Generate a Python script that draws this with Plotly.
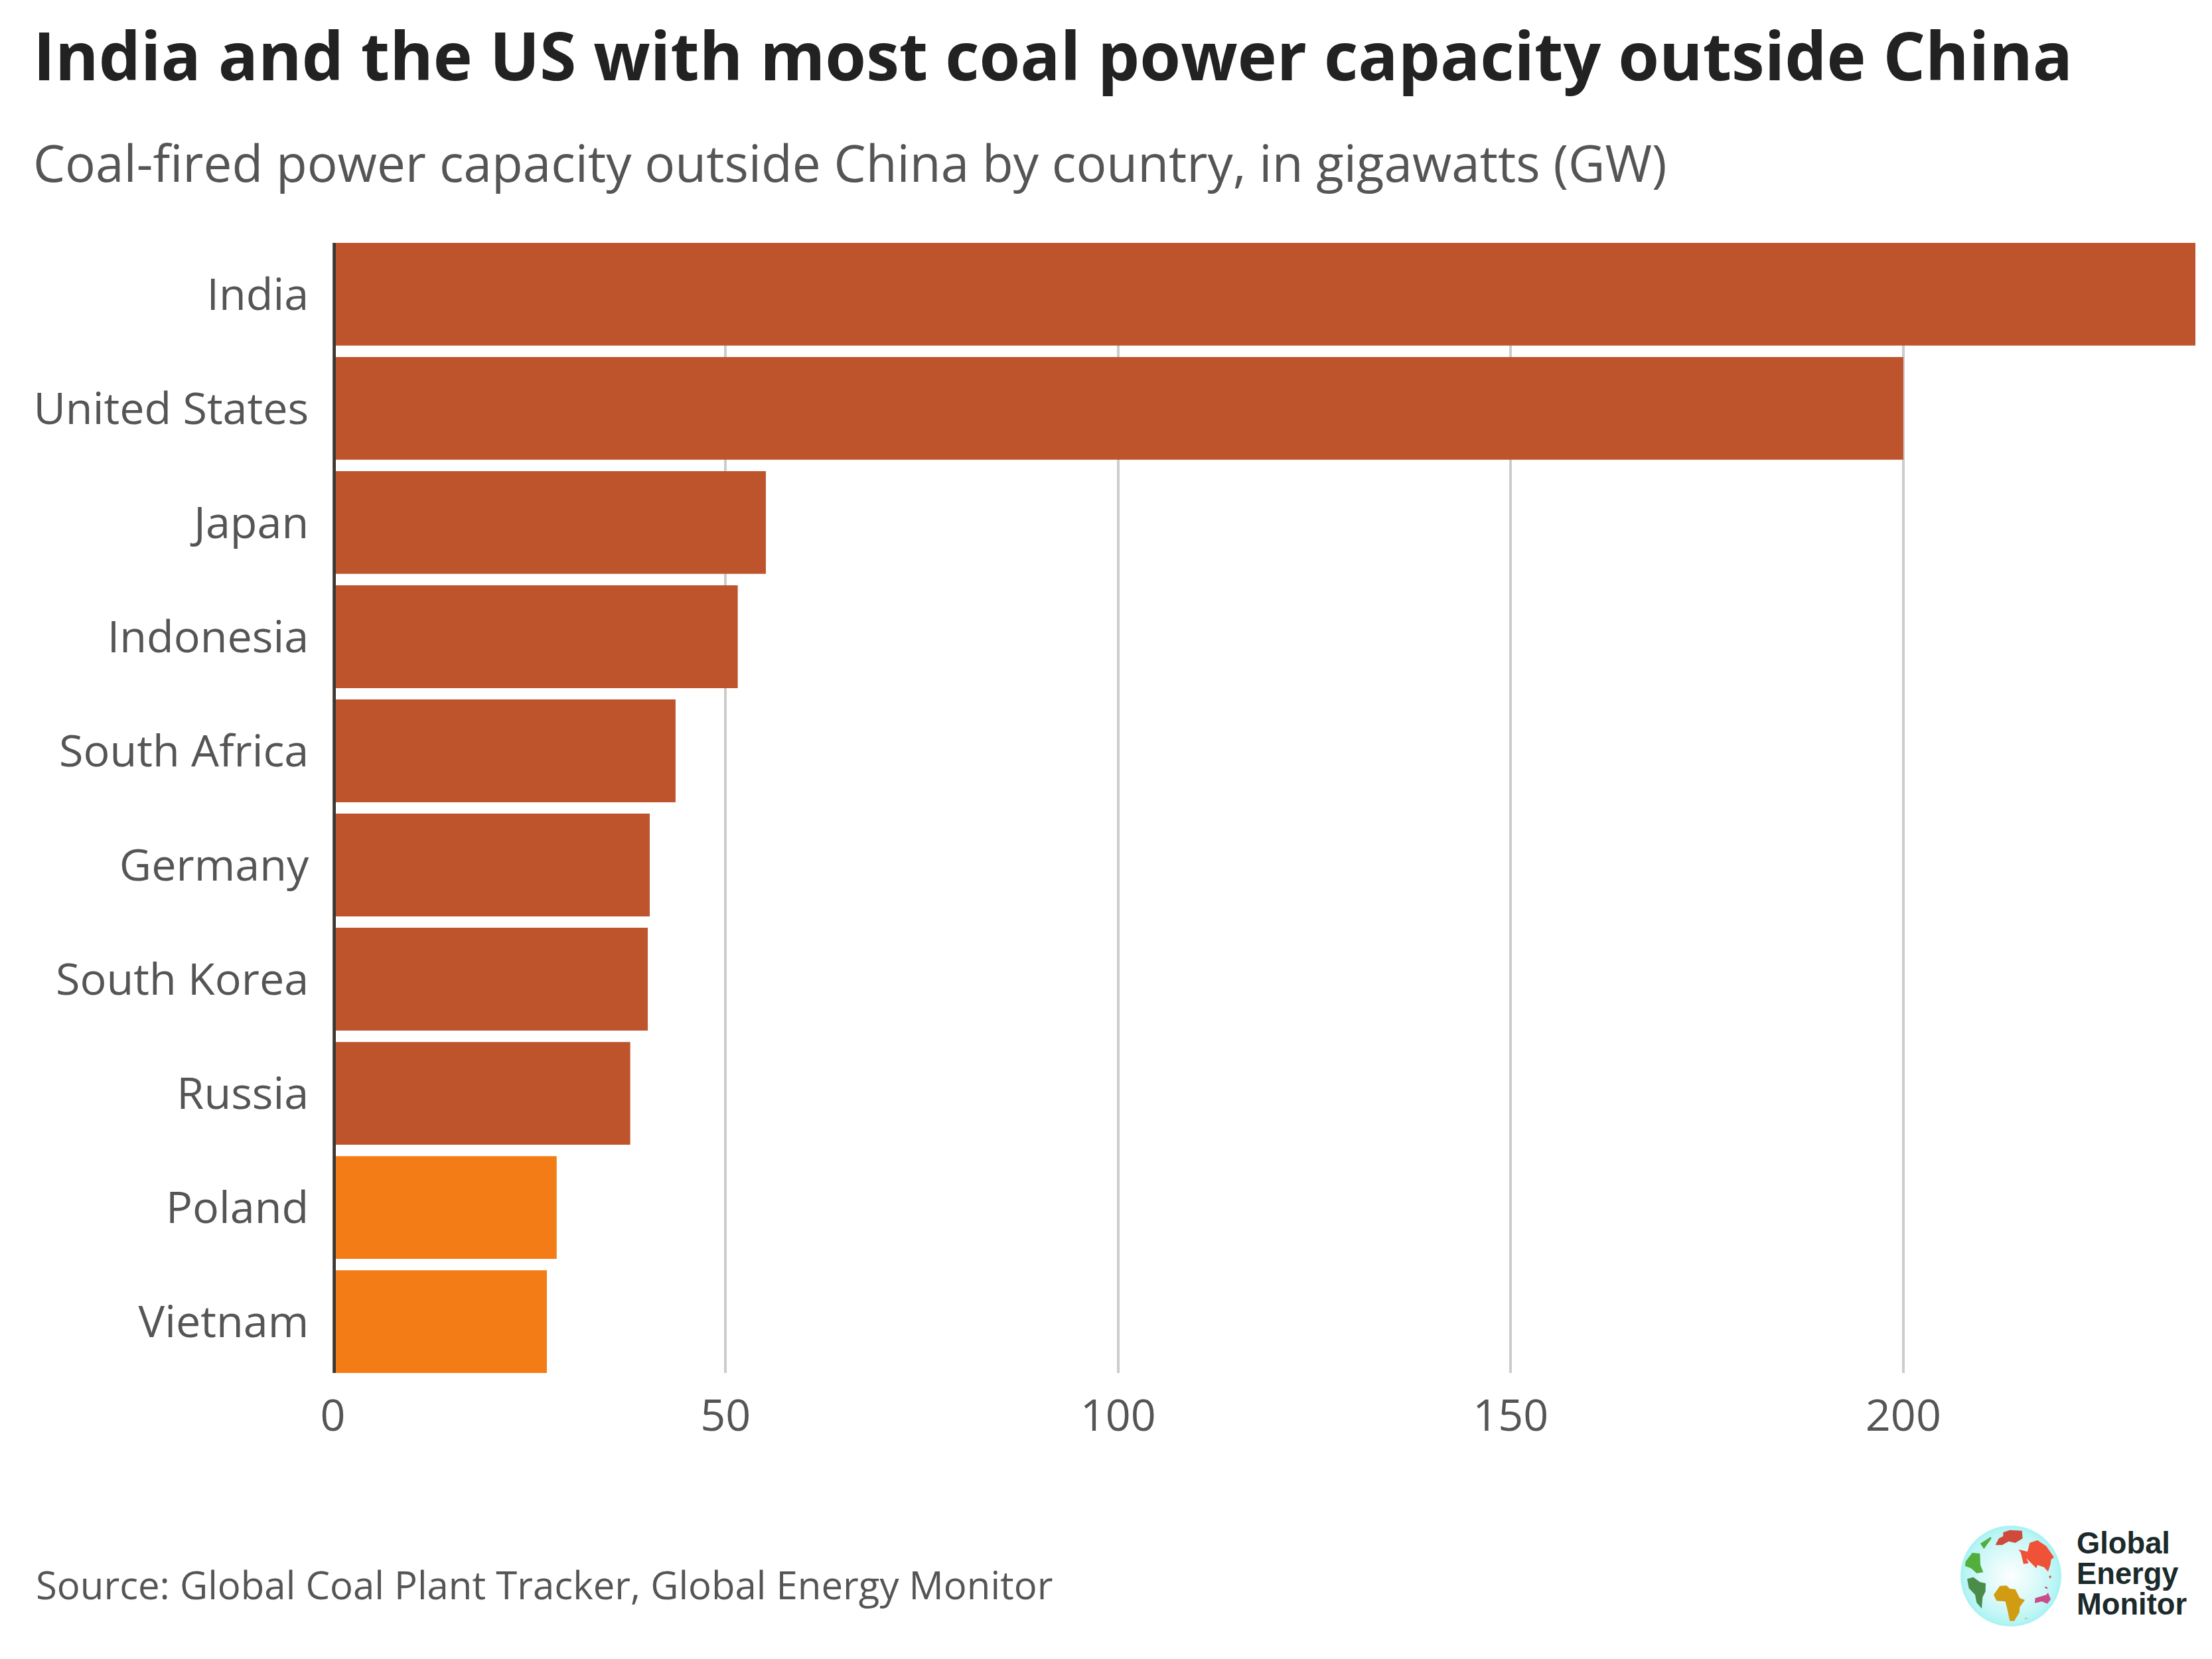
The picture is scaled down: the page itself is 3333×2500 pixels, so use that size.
import plotly.graph_objects as go

countries = ["India", "United States", "Japan", "Indonesia", "South Africa", "Germany",
             "South Korea", "Russia", "Poland", "Vietnam"]
capacity_gw = [237.2, 200, 55.14, 51.56, 43.64, 40.35, 40.1, 37.87, 28.5, 27.25]
bar_colors = ["#BE542C"] * 8 + ["#F37C16"] * 2
x_ticks = [0, 50, 100, 150, 200]

W, H = 3333, 2500
FONT = "Open Sans"
LOGO_FONT = "Liberation Sans"

# logo outlines, in pixels of a 3x crop starting at (2850, 2250)
LOGO_SHAPES = [
    ("#CF4A3A", [(505, 178), (535, 167), (590, 170), (593, 205), (560, 225), (530, 218), (500, 235), (470, 235), (485, 205), (505, 195)]),
    ("#52AE3D", [(402, 228), (448, 198), (452, 205), (418, 253)]),
    ("#EF5236", [(625, 225), (660, 213), (700, 240), (735, 290), (722, 300), (718, 325), (708, 355), (690, 335), (660, 325), (655, 340), (610, 295), (620, 317), (597, 320), (585, 270), (575, 255), (615, 265)]),
    ("#EF5236", [(712, 375), (722, 373), (722, 382), (715, 386)]),
    ("#52AE3D", [(365, 270), (400, 273), (402, 325), (415, 358), (385, 362), (360, 340), (333, 330), (335, 310)]),
    ("#4A8C4A", [(342, 388), (370, 380), (400, 402), (426, 408), (425, 445), (412, 470), (408, 522), (385, 495), (378, 460), (350, 430)]),
    ("#D19C12", [(490, 420), (520, 418), (535, 432), (560, 435), (580, 475), (603, 483), (580, 515), (578, 540), (555, 578), (535, 578), (525, 530), (515, 490), (475, 487), (462, 460)]),
    ("#D19C12", [(600, 567), (614, 563), (612, 569)]),
    ("#CC4A8C", [(650, 475), (700, 460), (708, 450), (720, 480), (705, 500), (680, 490), (648, 497)]),
    ("#CC4A8C", [(692, 424), (702, 423), (707, 433), (697, 431)]),
]


def px_x(v):
    return v / W


def px_y(v):
    return 1 - v / H


fig = go.Figure()
fig.add_trace(go.Bar(
    x=capacity_gw,
    y=countries,
    orientation="h",
    marker=dict(color=bar_colors, line=dict(width=0)),
    showlegend=False,
))

fig.update_layout(
    template="none",
    width=W,
    height=H,
    paper_bgcolor="white",
    plot_bgcolor="white",
    margin=dict(l=0, r=0, t=0, b=0, pad=0),
    bargap=0.1,
    font=dict(family=FONT, color="#555555", size=66.5),
    title=dict(
        text="<b>India and the US with most coal power capacity outside China</b>",
        x=px_x(50), xanchor="left", xref="paper",
        y=px_y(86), yanchor="middle", yref="container",
        font=dict(family=FONT, size=99.9, color="#222222"),
    ),
)

fig.update_xaxes(
    automargin=False,
    domain=[px_x(501.6), px_x(3308)],
    range=[0, 237.2],
    tickvals=x_ticks,
    showgrid=True,
    gridcolor="#CCCCCC",
    gridwidth=4.4,
    zeroline=False,
    showline=False,
    ticks="outside",
    ticklen=6,
    tickcolor="rgba(0,0,0,0)",
    tickfont=dict(family=FONT, size=66.5, color="#555555"),
)
fig.update_yaxes(
    automargin=False,
    domain=[px_y(2069), px_y(366)],
    range=[9.45, -0.45],
    showgrid=False,
    zeroline=False,
    showline=False,
    ticks="outside",
    ticklen=22,
    tickcolor="rgba(0,0,0,0)",
    tickfont=dict(family=FONT, size=66.5, color="#555555"),
)

# axis line, sits just right of zero and on top of the bars
fig.add_shape(type="line", xref="paper", yref="paper",
              x0=px_x(503.6), x1=px_x(503.6), y0=px_y(2069), y1=px_y(366),
              line=dict(color="#3A3835", width=4.8), layer="above")

fig.add_annotation(
    text="Coal-fired power capacity outside China by country, in gigawatts (GW)",
    xref="paper", yref="paper", x=px_x(48), y=px_y(244),
    xanchor="left", yanchor="middle", showarrow=False, align="left",
    font=dict(family=FONT, size=76.4, color="#555555"),
)
fig.add_annotation(
    text="Source: Global Coal Plant Tracker, Global Energy Monitor",
    xref="paper", yref="paper", x=px_x(52), y=px_y(2387),
    xanchor="left", yanchor="middle", showarrow=False, align="left",
    font=dict(family=FONT, size=58.1, color="#555555"),
)

# logo text
for word, y_px in zip(["Global", "Energy", "Monitor"], [2325, 2371, 2417]):
    fig.add_annotation(
        text=f"<b>{word}</b>",
        xref="paper", yref="paper", x=px_x(3127), y=px_y(y_px),
        xanchor="left", yanchor="middle", showarrow=False,
        font=dict(family=LOGO_FONT, size=45.3, color="#1B2A2B"),
    )

# globe: rings from the pale blue rim to the white centre
cx, cy, rad = 3030, 2375, 76
steps = 24
for i in range(steps):
    frac = (i / (steps - 1)) ** 0.7
    r = rad * (1 - i / (steps - 1))
    col = "rgb({},{},{})".format(
        int(170 + 85 * frac), int(243 + 12 * frac), int(243 + 12 * frac))
    fig.add_shape(
        type="circle", xref="paper", yref="paper",
        x0=px_x(cx - r), x1=px_x(cx + r), y0=px_y(cy + r), y1=px_y(cy - r),
        fillcolor=col, line=dict(width=0), layer="above",
    )

for col, pts in LOGO_SHAPES:
    path = "M " + " L ".join(
        f"{px_x(2850 + a / 3):.5f},{px_y(2250 + b / 3):.5f}" for a, b in pts) + " Z"
    fig.add_shape(type="path", path=path, xref="paper", yref="paper",
                  fillcolor=col, line=dict(width=0), layer="above")

fig.write_html("out.html", config=dict(displayModeBar=False),
               post_script="document.body.style.margin='0';")
